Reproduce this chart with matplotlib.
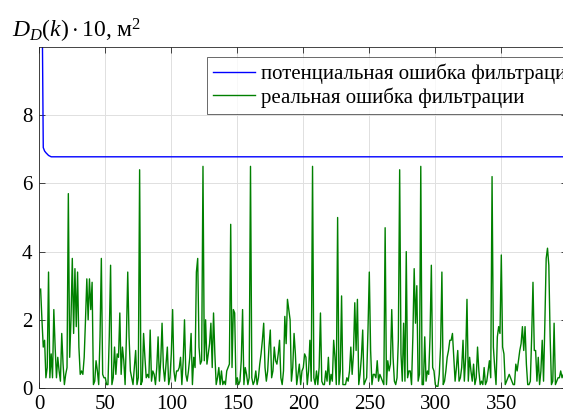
import numpy as np
import matplotlib
matplotlib.use("Agg")
import matplotlib.pyplot as plt

# Реальная ошибка фильтрации, k = 1..397
real_err = [
    2.9, 2.0, 1.2, 1.4, 0.3, 0.6, 3.4, 0.3, 1.0, 0.3,
    2.3, 1.2, 0.3, 0.9, 0.5, 0.2, 1.6, 0.7, 0.1, 0.4,
    0.6, 5.7, 0.9, 2.0, 3.8, 1.6, 3.5, 1.8, 3.4, 1.2,
    0.4, 0.5, 0.4, 0.9, 2.0, 3.2, 2.0, 3.2, 2.3, 3.1,
    0.1, 0.2, 0.8, 0.5, 0.1, 1.5, 3.8, 0.4, 0.3, 0.3,
    0.1, 0.1, 1.5, 3.6, 0.1, 0.3, 1.2, 0.4, 1.0, 0.9,
    2.2, 0.4, 1.2, 0.8, 0.1, 1.5, 3.4, 1.5, 0.5, 0.3,
    0.1, 0.6, 1.1, 0.1, 0.3, 6.4, 0.1, 0.2, 1.6, 0.9,
    0.3, 0.4, 0.3, 1.7, 0.2, 0.5, 0.4, 0.1, 0.6, 1.5,
    0.2, 0.8, 1.9, 0.6, 0.2, 0.7, 1.2, 0.1, 0.3, 1.0,
    2.3, 0.5, 0.2, 0.5, 0.5, 0.6, 0.9, 0.1, 0.8, 2.0,
    0.4, 0.2, 0.5, 0.9, 1.6, 0.1, 0.9, 0.6, 3.4, 3.8,
    1.2, 0.7, 0.8, 6.5, 0.8, 2.0, 0.7, 1.0, 1.3, 1.9,
    0.6, 2.2, 1.0, 0.1, 0.3, 0.6, 0.1, 0.5, 0.1, 0.2,
    0.1, 0.5, 0.6, 0.7, 4.8, 0.6, 2.3, 2.2, 0.1, 0.3,
    0.1, 0.2, 0.8, 2.3, 0.1, 0.6, 0.4, 0.1, 0.3, 6.5,
    0.3, 0.1, 0.2, 0.5, 0.1, 0.3, 0.7, 1.0, 1.4, 1.9,
    0.6, 0.2, 0.5, 1.2, 1.7, 0.3, 0.5, 1.2, 0.8, 0.7,
    1.0, 1.4, 0.3, 0.1, 0.5, 2.1, 1.3, 2.6, 2.3, 2.0,
    0.2, 0.6, 1.6, 1.0, 0.1, 0.4, 0.7, 0.1, 0.5, 0.6,
    1.0, 0.9, 0.1, 0.5, 1.4, 0.2, 6.5, 0.3, 0.1, 0.5,
    0.1, 0.6, 2.2, 0.2, 0.1, 0.1, 0.5, 0.2, 0.9, 0.1,
    0.4, 0.2, 1.4, 0.9, 0.1, 5.0, 0.1, 0.5, 2.7, 0.1,
    0.1, 0.1, 0.3, 0.2, 0.5, 1.2, 0.4, 1.0, 2.5, 1.1,
    2.6, 0.1, 0.4, 0.9, 1.7, 0.1, 0.2, 0.3, 1.7, 3.4,
    1.1, 0.1, 0.4, 0.4, 0.3, 0.8, 0.2, 0.4, 0.3, 0.2,
    0.1, 4.7, 0.1, 0.8, 0.5, 0.7, 2.3, 0.9, 0.2, 0.1,
    0.3, 1.4, 6.4, 1.0, 0.2, 1.9, 0.2, 4.0, 0.3, 0.5,
    0.5, 0.1, 1.5, 3.5, 1.9, 3.0, 0.2, 0.4, 6.5, 0.1,
    0.1, 1.5, 0.2, 0.5, 0.4, 1.5, 3.6, 0.6, 0.5, 0.1,
    0.05, 0.05, 0.4, 1.2, 3.4, 0.1, 0.2, 0.5, 0.9, 1.1,
    1.4, 1.4, 1.6, 0.9, 0.2, 0.6, 1.1, 0.2, 0.3, 0.6,
    1.4, 0.2, 0.9, 2.6, 0.2, 0.9, 0.5, 0.2, 0.7, 0.1,
    0.3, 1.2, 0.5, 0.1, 0.2, 0.1, 0.6, 0.1, 0.2, 0.5,
    0.8, 0.3, 6.2, 1.2, 0.6, 0.1, 1.5, 1.8, 1.6, 3.9,
    1.2, 1.0, 0.1, 0.2, 0.3, 0.4, 0.3, 0.2, 0.1, 0.1,
    0.7, 0.5, 0.8, 1.1, 1.3, 1.8, 1.1, 1.8, 0.7, 0.1,
    0.1, 0.2, 1.5, 3.1, 1.1, 1.1, 0.2, 0.9, 0.1, 0.5,
    1.4, 0.2, 1.9, 3.8, 4.1, 3.6, 1.5, 0.1, 0.2, 1.9,
    0.1, 0.2, 0.3, 0.3, 0.5, 0.3, 0.4,
]

# Потенциальная ошибка: начальный участок и установившееся значение
pot_head = [30.0, 12.0, 7.05, 6.95, 6.9, 6.86, 6.82, 6.8]
pot_steady = 6.78

x_ticks = [0, 50, 100, 150, 200, 250, 300, 350]
y_ticks = [0, 2, 4, 6, 8]

k = np.arange(1, len(real_err) + 1)
pot_err = pot_head + [pot_steady] * (len(real_err) - len(pot_head))

plt.rcParams["font.family"] = "Liberation Serif"
plt.rcParams["mathtext.fontset"] = "custom"
plt.rcParams["mathtext.rm"] = "Liberation Serif"
plt.rcParams["mathtext.it"] = "Liberation Serif:italic"

fig = plt.figure(figsize=(5.63, 4.19), dpi=100)
# оси выходят за правый край рисунка (картинка обрезана)
ax = fig.add_axes([39.3 / 563, 1 - 388 / 419, 528 / 563, 341 / 419])

ax.plot(k, pot_err, color="#0000ff", lw=1.0, label="потенциальная ошибка фильтрации")
ax.plot(k, real_err, color="#008000", lw=1.0, label="реальная ошибка фильтрации")

ax.set_xlim(0, 400)
ax.set_ylim(0, 10)
ax.set_xticks(x_ticks)
ax.set_xticklabels([str(v) for v in x_ticks])
ax.set_yticks(y_ticks)
ax.set_yticklabels([str(v) for v in y_ticks])
ax.tick_params(direction="in", length=4, width=0.6, colors="#262626",
               labelsize=15, labelcolor="black", top=True, right=True, pad=5)
ax.grid(True, color="#e0e0e0", lw=0.7)
for s in ax.spines.values():
    s.set_color("#262626")
    s.set_linewidth(0.6)

leg = ax.legend(loc="upper left", bbox_to_anchor=(0.318, 0.97), fontsize=15,
                frameon=True, fancybox=False, edgecolor="#262626",
                handlelength=2.0, handletextpad=0.3, borderpad=0.3,
                labelspacing=0.15, borderaxespad=0)
leg.get_frame().set_linewidth(0.6)

fig.text(12 / 563, 1 - 38 / 419, r"$D_D(k)\cdot\mathrm{10}$, м$^2$", fontsize=17,
         ha="left", va="baseline")

fig.savefig("out.png", dpi=100)
